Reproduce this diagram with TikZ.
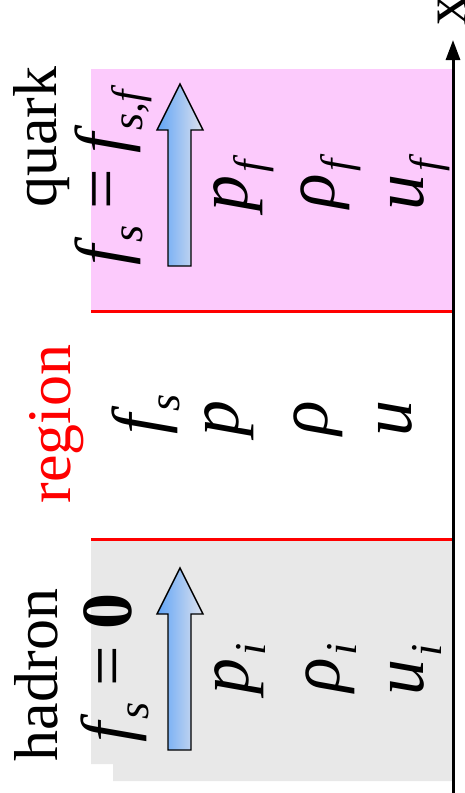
\documentclass[tikz,border=0pt]{standalone}
\usepackage{fontspec}
\setmainfont{Liberation Serif}
\usepackage{tikz}
\usetikzlibrary{arrows.meta}
\definecolor{quarkpink}{RGB}{252,202,252}
\definecolor{hadrongray}{RGB}{232,232,232}
\definecolor{arrowdark}{RGB}{96,164,246}
\definecolor{arrowlight}{RGB}{222,226,238}
\newcommand{\sbs}[1]{\kern0.04em\raisebox{-0.24em}{\fontsize{44}{44}\selectfont\itshape #1}}
\newcommand{\eqs}{\hspace{0.22em}\upshape=\hspace{0.22em}\itshape}

\begin{document}
\begin{tikzpicture}[x=1pt,y=-1pt,>=Latex,
lab/.style={rotate=90,font=\fontsize{62}{62}\selectfont,inner sep=0pt},
var/.style={rotate=90,font=\fontsize{72}{72}\selectfont\itshape,inner sep=0pt},
border/.style={draw=red,line width=3pt},
axis/.style={->,line width=3pt,>={Triangle[length=20pt,width=14pt]}},
fsarrow/.style={draw=black,line width=1.4pt,left color=arrowdark,right color=arrowlight}]
\useasboundingbox (0,0) rectangle (464,793);
\fill[quarkpink] (91,69) rectangle (454,311);
\fill[hadrongray] (91,539)--(454,539)--(454,781)--(113,781)--(113,764)--(91,764)--cycle;
\draw[border] (91,311)--(455,311);
\draw[border] (91,539)--(455,539);
\coordinate (axbot) at (453,793);
\coordinate (axtop) at (453,40);
\draw[axis] (axbot)--(axtop);
\node[lab] (xlab) at (452,10) {x};
\foreach \ya/\yb/\yc in {84/130/266,568/614/750}
  \shadedraw[fsarrow] (180,\ya)--(203,\yb)--(191,\yb)--(191,\yc)--(168,\yc)--(168,\yb)--(157,\yb)--cycle;
% quark
\node[lab] (quark) at (42,137) {quark};
\node[var] (fsq) at (113,178) {f\sbs{s}\eqs f\sbs{s,f}};
\node[var] (pq) at (244,186) {p\sbs{f}};
\node[var] (rq) at (331,184) {ρ\sbs{f}};
\node[var] (uq) at (420,185) {u\sbs{f}};
% region
\node[lab,text=red] (region) at (57,424) {region};
\node[var] (fsr) at (146,414) {f\sbs{s}};
\node[var] (pr) at (229,418) {p};
\node[var] (rr) at (318,418) {ρ};
\node[var] (ur) at (395,418) {u};
% hadron
\node[lab] (hadron) at (36,675) {hadron};
\node[var] (fsh) at (115,668) {f\sbs{s}\eqs\bfseries\upshape 0};
\node[var] (ph) at (240,669) {p\sbs{i}};
\node[var] (rh) at (331,668) {ρ\sbs{i}};
\node[var] (uh) at (416,670) {u\sbs{i}};
\end{tikzpicture}
\end{document}
